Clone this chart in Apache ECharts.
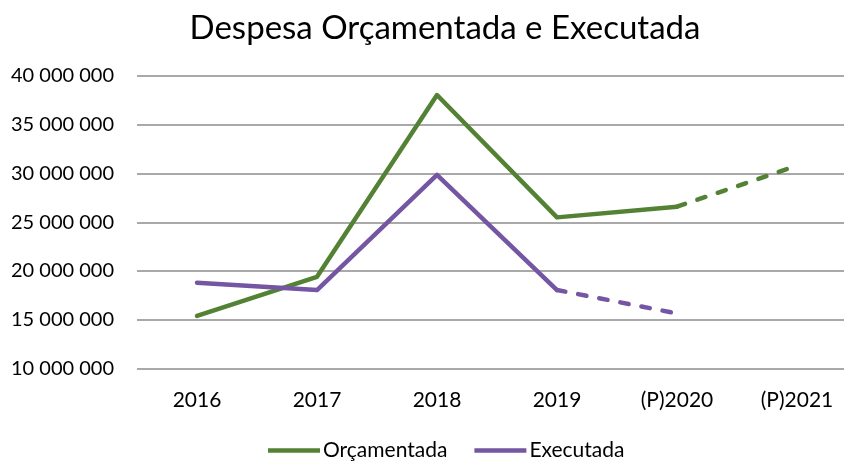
<!DOCTYPE html>
<html>
<head>
<meta charset="utf-8">
<script src="https://cdn.jsdelivr.net/npm/echarts@6/dist/echarts.min.js"></script>
<style>html,body{margin:0;padding:0;background:#fff}#c{width:844px;height:461px}</style>
</head>
<body>
<div id="c"></div>
<script>
var categories = ['2016', '2017', '2018', '2019', '(P)2020', '(P)2021'];
var orcamentada = [15400000, 19400000, 38050000, 25500000, 26600000, 30800000];
var executada = [18800000, 18050000, 29850000, 18050000, 15650000];
var lastActualOrc = 4;   // index where solid line ends for Orçamentada
var lastActualExec = 3;  // index where solid line ends for Executada
var yTicks = [10000000, 15000000, 20000000, 25000000, 30000000, 35000000, 40000000];

function solidPart(arr, last) {
  return categories.map(function (c, i) { return i <= last && i < arr.length ? arr[i] : null; });
}
function dashedPart(arr, last) {
  return categories.map(function (c, i) { return i >= last && i < arr.length ? arr[i] : null; });
}
var GREEN = '#548235', PURPLE = '#7556A3';
var FONT = 'Lato';

var chart = echarts.init(document.getElementById('c'), null, {renderer: 'canvas'});
chart.setOption({
  animation: false,
  backgroundColor: '#fff',
  title: {
    text: 'Despesa Orçamentada e Executada',
    left: 440, top: 7, textAlign: 'center',
    textStyle: {fontFamily: FONT, fontSize: 33, fontWeight: 'normal', color: '#000'}
  },
  legend: {
    data: [{name: 'Orçamentada'}, {name: 'Executada'}],
    top: 435, left: 263,
    icon: 'rect', itemWidth: 52, itemHeight: 4.5, itemGap: 27,
    textStyle: {fontFamily: FONT, fontSize: 21, color: '#000', padding: [0, 0, 0, -2]}
  },
  grid: {left: 137, width: 720, top: 76, height: 292.5, outerBoundsMode: 'none', containLabel: false},
  xAxis: {
    type: 'category', data: categories, boundaryGap: true,
    axisLine: {show: false}, axisTick: {show: false},
    axisLabel: {fontFamily: FONT, fontSize: 21, color: '#000', margin: 21}
  },
  yAxis: {
    type: 'value', min: yTicks[0], max: yTicks[yTicks.length - 1], interval: yTicks[1] - yTicks[0],
    axisLine: {show: false}, axisTick: {show: false},
    splitLine: {lineStyle: {color: '#8c8c8c', width: 1.5}},
    axisLabel: {
      fontFamily: FONT, fontSize: 20, color: '#000', margin: 23,
      formatter: function (v) { return String(Math.round(v)).replace(/\B(?=(\d{3})+(?!\d))/g, ' '); }
    }
  },
  series: [
    {name: 'Orçamentada', type: 'line', data: solidPart(orcamentada, lastActualOrc), symbol: 'none',
     lineStyle: {color: GREEN, width: 4.5, cap: 'round', join: 'round'}, itemStyle: {color: GREEN}},
    {name: 'Orçamentada', type: 'line', data: dashedPart(orcamentada, lastActualOrc), symbol: 'none',
     lineStyle: {color: GREEN, width: 4.5, type: [8.5, 13], cap: 'round'}, itemStyle: {color: GREEN}},
    {name: 'Executada', type: 'line', data: solidPart(executada, lastActualExec), symbol: 'none',
     lineStyle: {color: PURPLE, width: 4.5, cap: 'round', join: 'round'}, itemStyle: {color: PURPLE}},
    {name: 'Executada', type: 'line', data: dashedPart(executada, lastActualExec), symbol: 'none',
     lineStyle: {color: PURPLE, width: 4.5, type: [8.5, 13], cap: 'round'}, itemStyle: {color: PURPLE}}
  ]
});
</script>
</body>
</html>
